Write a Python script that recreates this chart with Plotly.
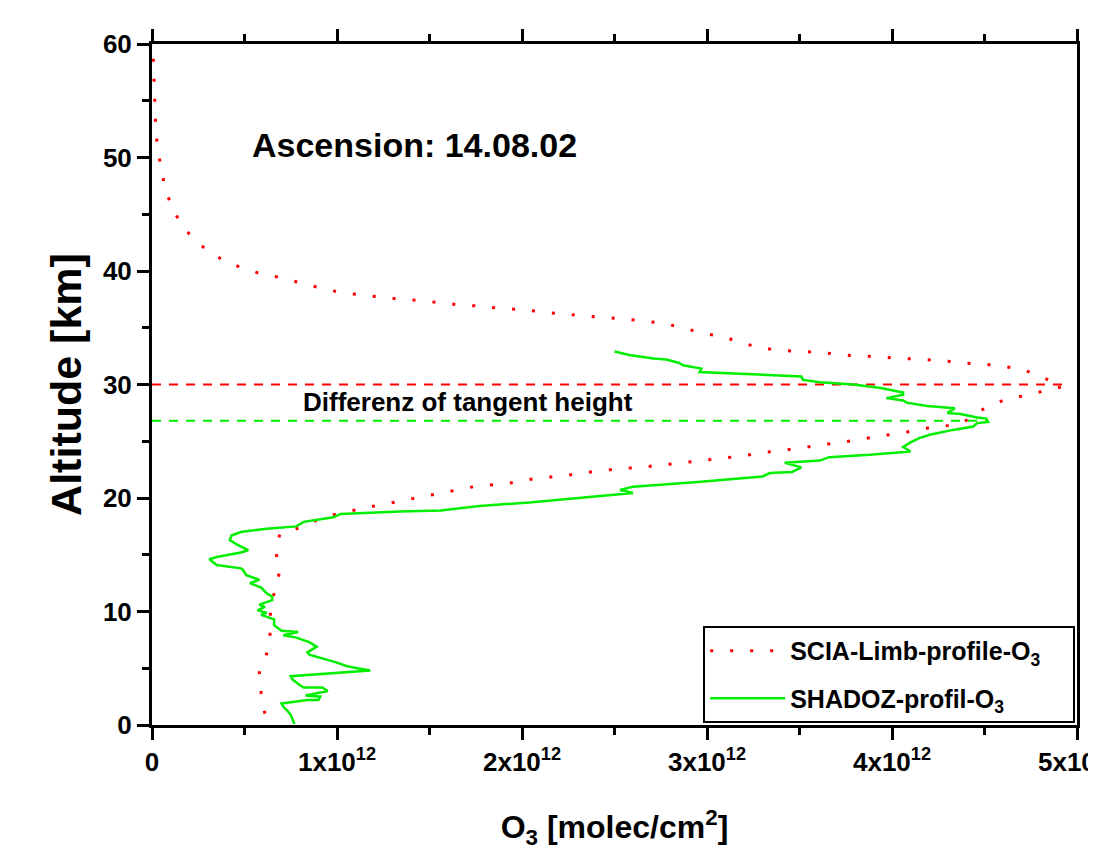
import plotly.graph_objects as go

# ---- data (O3 in units of 1e12 molec/cm^2, altitude in km) ----
scia_o3 = [0.61, 0.59, 0.58, 0.62, 0.64, 0.64, 0.66, 0.69, 0.67, 0.69, 0.80, 0.91, 1.02, 1.12,
           1.23, 1.34, 1.45, 1.56, 1.67, 1.78, 1.89, 1.99, 2.10, 2.21, 2.32, 2.43, 2.54, 2.64,
           2.75, 2.86, 2.97, 3.08, 3.19, 3.30, 3.41, 3.51, 3.62, 3.73, 3.84, 3.95, 4.05, 4.16,
           4.27, 4.38, 4.49, 4.60, 4.71, 4.82, 4.92, 4.82, 4.71, 4.60, 4.49, 4.38, 4.28, 4.17,
           4.06, 3.95, 3.84, 3.74, 3.63, 3.52, 3.41, 3.30, 3.19, 3.09, 2.98, 2.87, 2.76, 2.65,
           2.54, 2.43, 2.32, 2.22, 2.11, 2.00, 1.89, 1.78, 1.67, 1.56, 1.45, 1.35, 1.24, 1.13,
           1.02, 0.91, 0.81, 0.70, 0.58, 0.48, 0.37, 0.26, 0.17, 0.11, 0.07, 0.05, 0.03, 0.02,
           0.016, 0.01, 0.005, 0.005, 0.0]
scia_alt = [1.0, 2.8, 4.6, 6.3, 8.2, 9.9, 11.6, 13.5, 15.2, 16.8, 17.4, 18.2, 18.7, 19.0,
            19.4, 19.7, 20.1, 20.4, 20.8, 21.1, 21.2, 21.5, 21.8, 21.9, 22.2, 22.4, 22.6, 22.7,
            22.9, 23.1, 23.3, 23.5, 23.7, 24.0, 24.2, 24.4, 24.7, 24.9, 25.2, 25.5, 25.7, 26.1,
            26.3, 26.6, 27.8, 28.6, 29.0, 29.4, 29.8, 30.6, 31.3, 31.6, 31.8, 31.9, 32.1, 32.2,
            32.3, 32.4, 32.5, 32.6, 32.8, 32.9, 33.0, 33.2, 33.65, 34.2, 34.5, 35.0, 35.4, 35.6,
            35.8, 35.9, 36.1, 36.2, 36.4, 36.6, 36.7, 36.9, 37.0, 37.2, 37.4, 37.5, 37.7, 37.9,
            38.1, 38.5, 38.9, 39.4, 39.8, 40.3, 41.1, 42.3, 43.8, 45.5, 47.3, 49.1, 50.8, 52.6,
            54.4, 56.2, 58.0, 59.7, 60.0]

shadoz_o3 = [0.77, 0.76, 0.75, 0.73, 0.71, 0.70, 0.84, 0.90, 0.91, 0.83, 0.95, 0.92, 0.82, 0.80,
             0.76, 0.75, 1.18, 1.11, 1.05, 1.00, 0.91, 0.85, 0.84, 0.89, 0.85, 0.78, 0.71, 0.79,
             0.70, 0.66, 0.66, 0.59, 0.62, 0.57, 0.61, 0.58, 0.65, 0.65, 0.62, 0.59, 0.53, 0.58,
             0.51, 0.49, 0.48, 0.35, 0.31, 0.35, 0.48, 0.52, 0.46, 0.42, 0.43, 0.48, 0.62, 0.69,
             0.78, 0.82, 0.98, 1.02, 1.16, 1.34, 1.56, 1.77, 2.04, 2.31, 2.54, 2.60, 2.53, 2.60,
             2.95, 3.30, 3.34, 3.46, 3.51, 3.42, 3.61, 3.66, 3.88, 4.10, 4.06, 4.10, 4.15, 4.21,
             4.33, 4.44, 4.46, 4.52, 4.51, 4.46, 4.37, 4.30, 4.34, 4.19, 4.08, 4.06, 3.97, 4.06,
             4.06, 3.94, 3.79, 3.68, 3.61, 3.52, 3.51, 3.39, 2.96, 2.97, 2.87, 2.85, 2.78, 2.71,
             2.58, 2.50]
shadoz_alt = [0.1, 0.44, 0.88, 1.3, 1.6, 1.9, 2.2, 2.2, 2.5, 2.6, 3.0, 3.3, 3.3, 3.5,
              4.0, 4.3, 4.8, 5.0, 5.2, 5.5, 5.9, 6.2, 6.4, 6.9, 7.3, 7.7, 7.9, 8.2,
              8.3, 8.8, 9.3, 9.7, 9.9, 10.1, 10.4, 10.6, 11.0, 11.3, 11.6, 12.1, 12.5, 12.8,
              13.2, 13.7, 13.8, 14.1, 14.6, 14.8, 15.2, 15.4, 15.9, 16.3, 16.7, 17.0, 17.3, 17.4,
              17.5, 17.9, 18.3, 18.6, 18.7, 18.8, 18.9, 19.3, 19.6, 20.0, 20.35, 20.45, 20.7, 21.0,
              21.4, 21.9, 22.2, 22.3, 22.7, 23.1, 23.3, 23.6, 23.8, 24.1, 24.5, 24.9, 25.3, 25.6,
              26.0, 26.3, 26.6, 26.7, 27.0, 27.1, 27.4, 27.5, 27.9, 28.1, 28.4, 28.6, 28.8, 29.1,
              29.3, 29.7, 30.0, 30.1, 30.2, 30.4, 30.7, 30.8, 31.1, 31.4, 31.7, 31.9, 32.2, 32.3,
              32.6, 32.9]

# tangent-height marker lines
scia_tangent_x = [0.0, 4.92]
scia_tangent_alt = [30.0, 30.0]
shadoz_tangent_x = [0.0, 4.52]
shadoz_tangent_alt = [26.8, 26.8]

x_tick_vals = [0, 1, 2, 3, 4, 5]
x_tick_text = ["0", "1x10<sup>12</sup>", "2x10<sup>12</sup>", "3x10<sup>12</sup>",
               "4x10<sup>12</sup>", "5x10<sup>12</sup>"]
y_tick_vals = [0, 10, 20, 30, 40, 50, 60]

FONT = "Liberation Sans, Arial, sans-serif"
RED = "#ff0000"
GREEN = "#00ee00"
PAD = "\u00a0" * 4  # right padding inside the legend box

fig = go.Figure()

fig.add_trace(go.Scatter(x=scia_tangent_x, y=scia_tangent_alt, mode="lines",
                         line=dict(color=RED, width=2, dash="9px,8px"),
                         showlegend=False, hoverinfo="skip"))
fig.add_trace(go.Scatter(x=shadoz_tangent_x, y=shadoz_tangent_alt, mode="lines",
                         line=dict(color=GREEN, width=2, dash="9px,8px"),
                         showlegend=False, hoverinfo="skip"))

fig.add_trace(go.Scatter(x=scia_o3, y=scia_alt, mode="lines",
                         name="SCIA-Limb-profile-O<sub>3</sub>" + PAD, legendgroup="scia",
                         line=dict(color=RED, width=3, dash="3px,17px")))
fig.add_trace(go.Scatter(x=shadoz_o3, y=shadoz_alt, mode="lines",
                         name="SHADOZ-profil-O<sub>3</sub>" + PAD, legendgroup="shadoz",
                         line=dict(color=GREEN, width=2.5)))

fig.update_layout(
    width=1088, height=846,
    margin=dict(l=144, r=19, t=36, b=129, autoexpand=False),
    paper_bgcolor="white", plot_bgcolor="white",
    font=dict(family=FONT, color="black"),
    showlegend=True,
    legend=dict(x=0.998, y=0.003, xanchor="right", yanchor="bottom",
                bordercolor="black", borderwidth=2, bgcolor="white",
                font=dict(family=FONT, size=25, color="black", weight="bold"),
                itemwidth=75, tracegroupgap=12),
    annotations=[
        dict(text="Ascension: 14.08.02", xref="paper", yref="paper",
             x=0.284, y=0.852, xanchor="center", yanchor="middle", showarrow=False,
             font=dict(family=FONT, size=34, weight="bold")),
        dict(text="Differenz of tangent height", xref="paper", yref="paper",
             x=0.342, y=0.474, xanchor="center", yanchor="middle", showarrow=False,
             font=dict(family=FONT, size=26, weight="bold")),
    ],
)

fig.update_xaxes(
    range=[0, 5], tickvals=x_tick_vals, ticktext=x_tick_text, automargin=False,
    ticks="outside", ticklen=12, tickwidth=3, tickcolor="black",
    minor=dict(dtick=0.5, ticks="outside", ticklen=7, tickwidth=3, tickcolor="black"),
    showline=True, linewidth=3, linecolor="black", mirror="ticks",
    showgrid=False, zeroline=False, ticklabeloverflow="allow",
    tickfont=dict(family=FONT, size=26, weight="bold"),
    title=dict(text="O<sub>3</sub> [molec/cm<sup>2</sup>]", standoff=40,
               font=dict(family=FONT, size=32, weight="bold")),
)
fig.update_yaxes(
    range=[0, 60], tickvals=y_tick_vals, automargin=False,
    ticks="outside", ticklen=12, tickwidth=3, tickcolor="black",
    minor=dict(dtick=5, ticks="outside", ticklen=7, tickwidth=3, tickcolor="black"),
    showline=True, linewidth=3, linecolor="black", mirror=True,
    showgrid=False, zeroline=False,
    tickfont=dict(family=FONT, size=26, weight="bold"),
    title=dict(text="Altitude [km]", standoff=8,
               font=dict(family=FONT, size=43, weight="bold")),
)

fig.write_html("out.html")
